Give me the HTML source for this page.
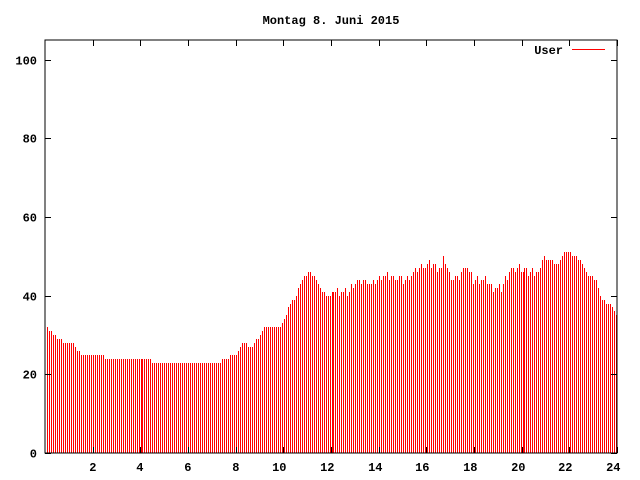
<!DOCTYPE html>
<html><head><meta charset="utf-8"><style>
body{margin:0;background:#fff}
svg{display:block}
text{font-family:"Liberation Mono",monospace;font-size:12px;font-weight:bold;fill:#000}
</style></head><body>
<svg id="s" width="640" height="480" xmlns="http://www.w3.org/2000/svg" shape-rendering="crispEdges">
<text x="331" y="24" text-anchor="middle">Montag 8. Juni 2015</text>
<g id="bars" fill="#f00"></g>
<rect x="45" y="40" width="572" height="413" fill="none" stroke="#000" stroke-width="1"/>
<g id="ax" stroke="#000"></g>
<g id="lab" text-anchor="end"></g>
<text x="563" y="54" text-anchor="end">User</text>
<line x1="572" y1="49.5" x2="605" y2="49.5" stroke="#f00"/>
</svg>
<script>
var k=[[0,32],[0.3,30],[0.5,29],[0.8,28],[1.1,28],[1.2,26],[1.5,25],[2.3,25],[2.5,24],[4.3,24],[4.4,23],[7.2,23],[7.4,24],[7.9,25],[8.2,28],[8.6,27],[8.9,30],[9.1,32],[9.8,32],[10.1,37],[10.4,40],[10.6,43],[10.9,46],[11.2,45],[11.5,41],[11.7,40],[12,41],[12.7,41],[12.8,43],[13.4,44],[13.6,43],[14,45],[15,44],[15.5,47],[16,48],[16.5,47],[16.6,49],[16.9,45],[17.2,44],[17.5,48],[17.8,44],[18.3,44],[18.6,42],[19,42],[19.3,46],[19.8,47],[20.1,46],[20.6,46],[20.8,50],[21,49],[21.4,48],[21.7,51],[22.2,50],[22.5,47],[22.7,45],[23,44],[23.2,39],[23.6,38],[23.9,34],[24,35]];
function v(h){for(var i=0;i<k.length-1;i++){if(h<=k[i+1][0]){var a=k[i],b=k[i+1];return a[1]+(b[1]-a[1])*(h-a[0])/(b[0]-a[0]);}}return 35;}
var g=document.getElementById('bars'),s="";
for(var i=0;i<288;i++){var h=i/12,val=v(h);
var n=((i*37)%7-3)*0.3; if(h>12&&h<20.5)val+=n;
val=Math.round(val);var y=Math.round(453-val*3.933);var x=47+2*i-Math.floor((i+48)/96);
if(x>616)continue;
s+='<rect x="'+x+'" y="'+y+'" width="1" height="'+(453-y)+'"/>';}
g.innerHTML=s;
var ax="",lab="";
for(var v2=0;v2<=100;v2+=20){var y=Math.round(453-v2*3.933)+0.5;
ax+='<line x1="45" y1="'+y+'" x2="51" y2="'+y+'"/><line x1="611" y1="'+y+'" x2="617" y2="'+y+'"/>';
lab+='<text x="37" y="'+(y+4)+'">'+v2+'</text>';}
for(var t=2;t<=24;t+=2){var x=Math.round(45+t*572/24)+0.5;
ax+='<line x1="'+x+'" y1="453" x2="'+x+'" y2="447"/><line x1="'+x+'" y1="40" x2="'+x+'" y2="46"/>';
lab+='<text x="'+(x+3)+'" y="471">'+t+'</text>';}
document.getElementById('ax').innerHTML=ax;
document.getElementById('lab').innerHTML=lab;
</script>
</body></html>
